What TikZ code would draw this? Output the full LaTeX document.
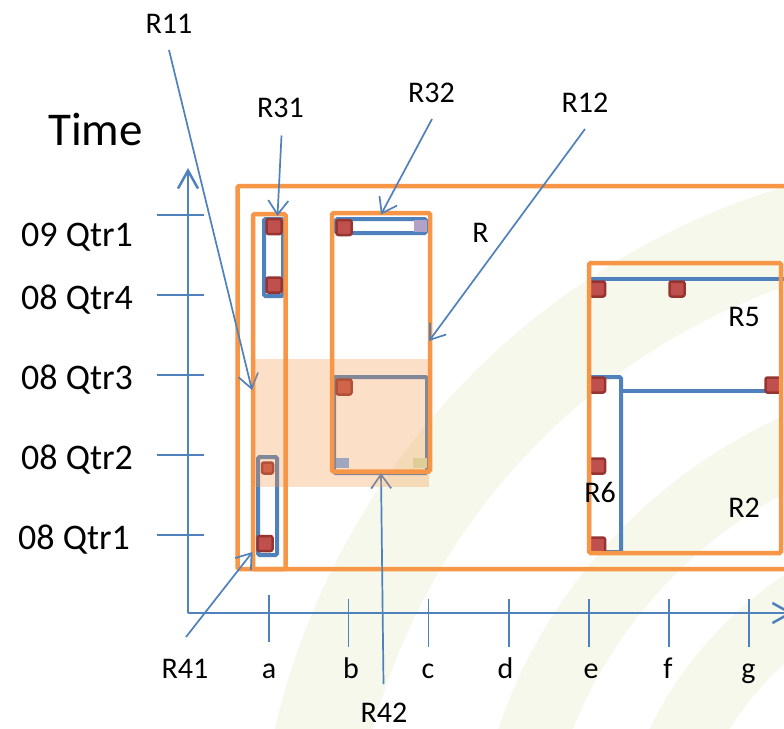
\documentclass[tikz,border=0pt]{standalone}
\usepackage{fontspec}
\setmainfont{Carlito}
\usetikzlibrary{arrows.meta}
\definecolor{ablue}{RGB}{79,129,189}
\definecolor{aorange}{RGB}{247,150,70}
\definecolor{ared}{RGB}{192,80,77}
\definecolor{adred}{RGB}{150,52,50}
\definecolor{wmgreen}{RGB}{245,248,234}
\definecolor{lav}{RGB}{178,162,199}
\definecolor{gblue}{RGB}{160,166,190}
\definecolor{khaki}{RGB}{222,205,150}
\begin{document}
\begin{tikzpicture}[x=1pt,y=-1pt,
  axisline/.style={draw=ablue,line width=2.5pt},
  tickline/.style={draw=ablue,line width=1.5pt},
  callout/.style={draw=ablue,line width=1.7pt,-{Straight Barb[length=14pt,width=20pt]}},
  axisarrow/.style={draw=ablue,line width=2.5pt,-{Straight Barb[length=18pt,width=20pt]}},
  obox/.style={draw=aorange,line width=4.5pt,rounded corners=1.5pt},
  bbox/.style={draw=ablue,line width=4pt,rounded corners=1.5pt},
  redsq/.style={draw=adred,fill=ared,line width=2.5pt,rounded corners=2pt,minimum size=15pt,inner sep=0pt},
  smallsq/.style={inner sep=0pt,draw=none},
  lbl/.style={font=\fontsize{30}{36}\selectfont,inner sep=0pt,anchor=base},
  ylbl/.style={font=\fontsize{36}{43}\selectfont,inner sep=0pt,anchor=base},
]
\useasboundingbox (0,0) rectangle (784,728);
\clip (0,0) rectangle (784,728);
\fill[white] (0,0) rectangle (784,728);
% watermark bands
\fill[wmgreen,even odd rule] (1000,900) circle[radius=745pt] (1000,900) circle[radius=650pt];
\fill[wmgreen,even odd rule] (1000,900) circle[radius=530pt] (1000,900) circle[radius=460pt];
\fill[wmgreen,even odd rule] (1000,900) circle[radius=390pt] (1000,900) circle[radius=320pt];

% axes
\coordinate (O) at (188,613);
\coordinate (ytop) at (188,168);
\coordinate (xend) at (793,613);
\draw[axisarrow] (O) -- (ytop);
\draw[axisarrow] (O) -- (xend);

% y ticks and labels
\foreach \y/\n in {215/t1,295/t2,375/t3,455/t4,535/t5}{
  \coordinate (\n l) at (157,\y);
  \coordinate (\n r) at (204,\y);
  \draw[tickline] (\n l) -- (\n r);
}
\node[ylbl] (q91) at (77,246) {09 Qtr1};
\node[ylbl] (q84) at (77,309) {08 Qtr4};
\node[ylbl] (q83) at (77,389) {08 Qtr3};
\node[ylbl] (q82) at (77,469) {08 Qtr2};
\node[ylbl] (q81) at (74,549) {08 Qtr1};
\node[font=\fontsize{47}{56}\selectfont,inner sep=0pt,anchor=base] (time) at (95.5,145) {Time};

% x ticks and labels
\coordinate (xa1) at (269,595); \coordinate (xa2) at (269,642);
\draw[tickline] (xa1) -- (xa2);
\foreach \x/\n in {348.5/b,428.5/c,509/d,589/e,669/f,749/g}{
  \coordinate (x\n 1) at (\x,599);
  \coordinate (x\n 2) at (\x,647);
  \draw[tickline] (x\n 1) -- (x\n 2);
}
\node[lbl] (la) at (269,678) {a};
\node[lbl] (lb) at (351,678) {b};
\node[lbl] (lc) at (428,678) {c};
\node[lbl] (ld) at (505.5,678) {d};
\node[lbl] (le) at (591,678) {e};
\node[lbl] (lf) at (668,678) {f};
\node[lbl] (lg) at (748.5,678) {g};

% blue rectangles
\draw[bbox] (264,219) rectangle (283,296);
\draw[bbox] (258,457) rectangle (277,555);
\draw[bbox] (336,219) rectangle (426,233);
\draw[bbox] (334,377) rectangle (427,473);
\draw[bbox] (590,279) -- (786,279);
\draw[bbox] (620,391) -- (777,391);
\draw[bbox] (589,377) rectangle (621,552);

% red squares
\node[redsq] (s1) at (274,226.5) {};
\node[redsq] (s2) at (274,285) {};
\node[redsq] (s3) at (344,227.5) {};
\node[redsq] (s4) at (344,387) {};
\node[redsq,minimum size=11pt] (s5) at (267.5,468) {};
\node[redsq] (s6) at (265,543.5) {};
\node[redsq] (s7) at (597.5,289) {};
\node[redsq] (s8) at (677,289) {};
\node[redsq] (s9) at (597.5,385) {};
\node[redsq] (s10) at (773,385) {};
\node[redsq] (s11) at (597.5,466) {};
\node[redsq] (s12) at (597.5,545) {};
\node[smallsq,fill=lav,minimum width=13pt,minimum height=12pt] (lv) at (420,226) {};

% orange rectangles
\draw[obox] (237.5,186) rectangle (795,569);
\draw[obox] (253,214) rectangle (285.5,569);
\draw[obox] (332,213) rectangle (430,471.5);
\draw[obox] (589,263) rectangle (781,553);

% callout labels and arrows
\node[lbl] (R11) at (169,33) {R11};
\node[lbl] (R31) at (280.5,117) {R31};
\node[lbl] (R32) at (431.5,102) {R32};
\node[lbl] (R12) at (585,112) {R12};
\node[lbl] (R41) at (185,678) {R41};
\node[lbl] (R42) at (384,722) {R42};
\node[lbl] (R) at (480.5,242) {R};
\node[lbl] (R5) at (744,326) {R5};
\node[lbl] (R6) at (600,502) {R6};
\node[lbl] (R2) at (744,517) {R2};

\coordinate (c11a) at (169,50);   \coordinate (c11b) at (252,390);
\coordinate (c31a) at (281.5,135.5); \coordinate (c31b) at (277.5,216);
\coordinate (c32a) at (432,119);  \coordinate (c32b) at (381,214.5);
\coordinate (c12a) at (585,129);  \coordinate (c12b) at (429,341);
\coordinate (c41a) at (186,637);  \coordinate (c41b) at (252.5,552);
\coordinate (c42a) at (383.5,684); \coordinate (c42b) at (381,473);
\draw[callout] (c11a) -- (c11b);
\draw[callout] (c31a) -- (c31b);
\draw[callout] (c32a) -- (c32b);
\draw[callout] (c12a) -- (c12b);
\draw[callout] (c41a) -- (c41b);
\draw[callout] (c42a) -- (c42b);

% translucent overlay
\fill[aorange,opacity=0.3] (253,359) rectangle (429,487);
\node[smallsq,fill=gblue,minimum width=13pt,minimum height=10pt] (gq) at (342.5,463) {};
\node[smallsq,fill=khaki,minimum width=14pt,minimum height=10pt] (kq) at (420,463) {};
\end{tikzpicture}
\end{document}
